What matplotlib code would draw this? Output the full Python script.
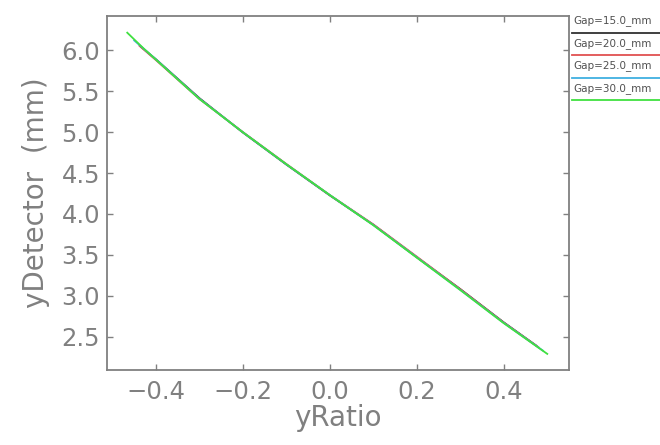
import matplotlib.pyplot as plt
from matplotlib.lines import Line2D

# yRatio / yDetector curves, one per gap
ratio_15 = [-0.435, -0.40, -0.30, -0.20, -0.10, 0.00, 0.10, 0.20, 0.30, 0.40, 0.475]
det_15 = [6.045, 5.89, 5.415, 4.995, 4.603, 4.226, 3.868, 3.47, 3.082, 2.675, 2.39]

ratio_20 = [-0.438, -0.40, -0.30, -0.20, -0.10, 0.00, 0.10, 0.20, 0.30, 0.40, 0.48]
det_20 = [6.055, 5.88, 5.405, 5.0, 4.61, 4.23, 3.872, 3.478, 3.08, 2.672, 2.37]

ratio_25 = [-0.45, -0.40, -0.30, -0.20, -0.10, 0.00, 0.10, 0.20, 0.30, 0.40, 0.49]
det_25 = [6.12, 5.888, 5.408, 4.998, 4.606, 4.23, 3.865, 3.47, 3.072, 2.668, 2.33]

ratio_30 = [-0.466, -0.428, -0.40, -0.30, -0.20, -0.10, 0.00, 0.10, 0.20, 0.30, 0.40, 0.50]
det_30 = [6.215, 6.02, 5.885, 5.405, 4.998, 4.607, 4.23, 3.862, 3.466, 3.07, 2.665, 2.29]

labels = ["Gap=15.0_mm", "Gap=20.0_mm", "Gap=25.0_mm", "Gap=30.0_mm"]
colors = ["#303030", "#e05050", "#40b0e0", "#40e040"]
xs = [ratio_15, ratio_20, ratio_25, ratio_30]
ys = [det_15, det_20, det_25, det_30]

grey = "#808080"
fig = plt.figure(figsize=(6.6, 4.45), dpi=100)
ax = fig.add_axes([107 / 660, 75 / 445, 462 / 660, 354 / 445])

for x, y, c in zip(xs, ys, colors):
    ax.plot(x, y, color=c, lw=1.3)

ax.set_xlim(-0.5126, 0.550)
ax.set_ylim(2.093, 6.419)
ax.set_xticks([-0.4, -0.2, 0.0, 0.2, 0.4])
ax.set_yticks([2.5, 3.0, 3.5, 4.0, 4.5, 5.0, 5.5, 6.0])
ax.tick_params(direction="in", length=4, width=1, colors=grey,
               labelsize=17.5, top=True, right=True, labelcolor=grey)
ax.tick_params(axis="x", pad=7)
ax.tick_params(axis="y", pad=5)
for s in ax.spines.values():
    s.set_color(grey)
    s.set_linewidth(1.3)

ax.set_xlabel("yRatio", fontsize=20, color=grey, labelpad=0)
ax.set_ylabel("yDetector  (mm)", fontsize=20, color=grey, labelpad=8)

# legend drawn as text with a coloured line underneath, outside the frame
for i, (lab, c) in enumerate(zip(labels, colors)):
    ty = 1 - (21 + 22.5 * i) / 445
    ly = 1 - (32.5 + 22.5 * i) / 445
    fig.text(573 / 660, ty, lab, fontsize=7.5, color="#505050", va="center", ha="left")
    fig.add_artist(Line2D([572 / 660, 1.0], [ly, ly], color=c, lw=1.3,
                          transform=fig.transFigure))

fig.savefig("out.png", dpi=100)
